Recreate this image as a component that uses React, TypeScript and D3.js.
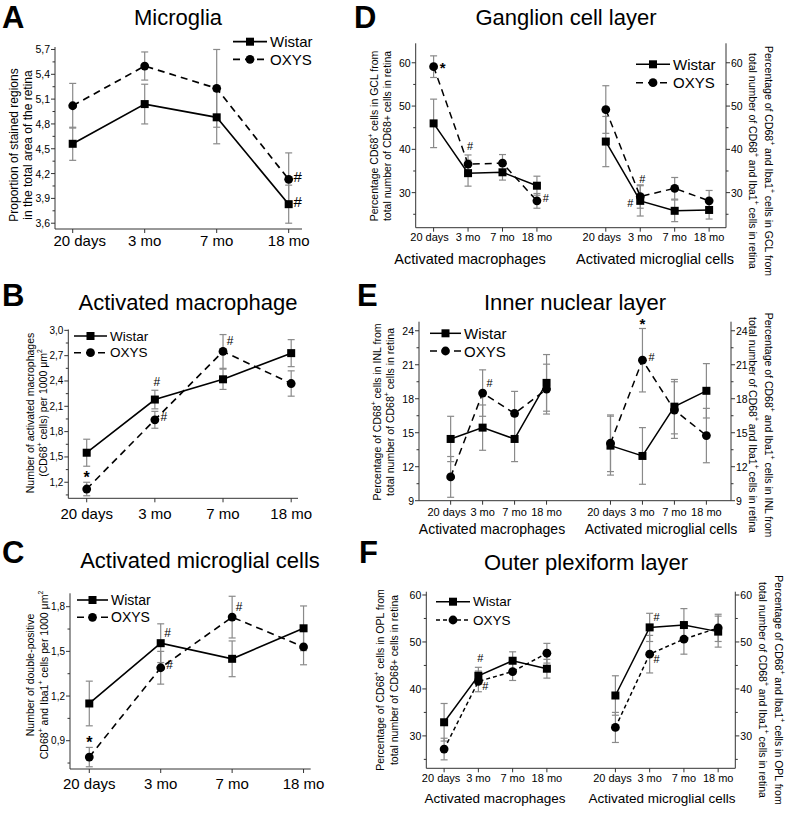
import React from "react";
import * as d3 from "d3";

// ---------- data ----------
const ages = ["20 days", "3 mo", "7 mo", "18 mo"];
const cellGroups = ["Activated macrophages", "Activated microglial cells"];
const seriesNames = ["Wistar", "OXYS"];

// A: Microglia
const microgliaWistar = [4.56, 5.04, 4.88, 3.83];
const microgliaWistarErr = [0.2, 0.24, 0.32, 0.23];
const microgliaOxys = [5.02, 5.5, 5.23, 4.13];
const microgliaOxysErr = [0.27, 0.17, 0.47, 0.32];
const microgliaTicks = [3.6, 3.9, 4.2, 4.5, 4.8, 5.1, 5.4, 5.7];

// B: Activated macrophage
const macroWistar = [1.55, 2.18, 2.42, 2.73];
const macroWistarErr = [0.16, 0.11, 0.12, 0.16];
const macroOxys = [1.12, 1.94, 2.75, 2.37];
const macroOxysErr = [0.08, 0.1, 0.2, 0.15];
const macroTicks = [1.2, 1.5, 1.8, 2.1, 2.4, 2.7, 3.0];

// C: Activated microglial cells
const microWistar = [1.15, 1.555, 1.45, 1.655];
const microWistarErr = [0.15, 0.13, 0.12, 0.15];
const microOxys = [0.79, 1.39, 1.73, 1.53];
const microOxysErr = [0.065, 0.11, 0.14, 0.12];
const microTicks = [0.9, 1.2, 1.5, 1.8];

// D: Ganglion cell layer (macrophages x4, microglial cells x4)
const gclWistar = [46.0, 34.5, 34.7, 31.6, 41.8, 28.1, 25.8, 26.0];
const gclWistarErr = [5.6, 3.0, 1.8, 2.2, 5.8, 3.5, 2.5, 2.1];
const gclOxys = [59.1, 36.6, 36.8, 28.1, 49.2, 29.1, 31.0, 28.1];
const gclOxysErr = [2.5, 2.1, 2.0, 1.7, 5.5, 2.7, 2.5, 2.4];
const gclTicks = [30, 40, 50, 60];

// E: Inner nuclear layer
const inlWistar = [14.45, 15.45, 14.45, 19.4, 13.86, 12.95, 17.3, 18.7];
const inlWistarErr = [2.0, 2.0, 2.0, 2.5, 2.6, 2.5, 2.4, 2.4];
const inlOxys = [11.1, 18.5, 16.7, 18.85, 14.07, 21.4, 17.0, 14.75];
const inlOxysErr = [1.8, 2.05, 1.95, 2.2, 2.5, 2.8, 2.5, 2.4];
const inlTicks = [9, 12, 15, 18, 21, 24];

// F: Outer plexiform layer
const oplWistar = [32.9, 42.8, 46.0, 44.3, 38.6, 53.1, 53.6, 52.2];
const oplWistarErr = [4.0, 1.8, 1.9, 2.0, 4.2, 3.0, 3.5, 3.3];
const oplOxys = [27.2, 41.6, 43.7, 47.6, 31.8, 47.4, 50.6, 53.0];
const oplOxysErr = [2.3, 2.2, 1.9, 2.1, 3.2, 4.0, 3.2, 2.9];
const oplTicks = [30, 40, 50, 60];

// significance marks: series, point index, symbol, placement keyword
type Mark = { s: "W" | "O"; i: number; sym: string; pos: string };
const marksA: Mark[] = [
  { s: "W", i: 3, sym: "#", pos: "right" },
  { s: "O", i: 3, sym: "#", pos: "right" },
];
const marksB: Mark[] = [
  { s: "O", i: 0, sym: "*", pos: "aboveErr" },
  { s: "W", i: 1, sym: "#", pos: "above" },
  { s: "O", i: 1, sym: "#", pos: "right" },
  { s: "O", i: 2, sym: "#", pos: "aboveRight" },
];
const marksC: Mark[] = [
  { s: "O", i: 0, sym: "*", pos: "aboveErr" },
  { s: "W", i: 1, sym: "#", pos: "aboveRight" },
  { s: "O", i: 1, sym: "#", pos: "right" },
  { s: "O", i: 2, sym: "#", pos: "aboveRight" },
];
const marksD: Mark[] = [
  { s: "O", i: 0, sym: "*", pos: "right" },
  { s: "O", i: 1, sym: "#", pos: "above" },
  { s: "O", i: 3, sym: "#", pos: "right" },
  { s: "O", i: 5, sym: "#", pos: "above" },
  { s: "W", i: 5, sym: "#", pos: "left" },
];
const marksE: Mark[] = [
  { s: "O", i: 1, sym: "#", pos: "aboveRight" },
  { s: "O", i: 5, sym: "*", pos: "aboveErr" },
  { s: "O", i: 5, sym: "#", pos: "right" },
];
const marksF: Mark[] = [
  { s: "W", i: 1, sym: "#", pos: "above" },
  { s: "O", i: 1, sym: "#", pos: "belowRight" },
  { s: "W", i: 5, sym: "#", pos: "aboveRight" },
  { s: "O", i: 5, sym: "#", pos: "belowRight" },
];

// ---------- rendering ----------
const FONT = "'Liberation Sans', Arial, Helvetica, sans-serif";
const AXIS = "#333";
const ERR = "#8a8a8a";

function Rich({ s, size }: { s: string; size: number }) {
  const parts = s.split(/(\^.)/).filter((p) => p.length > 0);
  return (
    <>
      {parts.map((p, k) =>
        p.startsWith("^") ? (
          <tspan key={k} baselineShift="super" fontSize={size * 0.65}>
            {p.slice(1)}
          </tspan>
        ) : (
          <tspan key={k}>{p}</tspan>
        )
      )}
    </>
  );
}

const commaFmt = (v: number) => d3.format(".1f")(v).replace(".", ",");
const intFmt = d3.format("d");

interface Cfg {
  xRange: [number, number];
  xDomain: [number, number];
  yRange: [number, number];
  yDomain: [number, number];
  pos: number[];
  groups: number[][];
  w: number[];
  wErr: number[];
  o: number[];
  oErr: number[];
  ticks: number[];
  fmt: (v: number) => string;
  tickSize: number;
  xLabelY: number;
  xLabelSize: number;
  firstLabelShift: number;
  rightAxis?: boolean;
  groupX?: number[];
  groupY?: number;
  groupSize?: number;
  title: string;
  titleX: number;
  titleY: number;
  letter: string;
  letterX: number;
  letterY: number;
  yLab: string[];
  yLabX: number[];
  yLabY: number;
  yLabSize: number;
  rLab?: string[];
  rLabX?: number[];
  rLabY?: number;
  legX: [number, number];
  legY: [number, number];
  legSize: number;
  dash: string;
  marks: Mark[];
  markSize: number;
  lineW: number;
}

const offsets: Record<string, [number, number]> = {
  right: [9, -3],
  above: [2, -18],
  aboveRight: [7, -10],
  belowRight: [7, 5],
  left: [-10, 2],
};

function Square({ cx, cy, s }: { cx: number; cy: number; s: number }) {
  return <rect x={cx - s / 2} y={cy - s / 2} width={s} height={s} fill="#000" />;
}

function Panel({ c }: { c: Cfg }) {
  const x = d3.scaleLinear().domain(c.xDomain).range(c.xRange);
  const y = d3.scaleLinear().domain(c.yDomain).range(c.yRange);
  const [xl, xr] = c.xRange;
  const [yb, yt] = c.yRange;
  const series = [
    { key: "W", v: c.w, e: c.wErr, dash: undefined as string | undefined, sq: true },
    { key: "O", v: c.o, e: c.oErr, dash: c.dash, sq: false },
  ];
  const step = c.ticks[1] - c.ticks[0];
  const minor = c.ticks
    .map((t) => t + step / 2)
    .concat([c.ticks[0] - step / 2])
    .filter((t) => t > c.yDomain[0] && t < c.yDomain[1]);
  const ms = 8;
  return (
    <g fontFamily={FONT}>
      <text x={c.titleX} y={c.titleY} fontSize={22} textAnchor="middle">
        {c.title}
      </text>
      <text x={c.letterX} y={c.letterY} fontSize={31} fontWeight="bold">
        {c.letter}
      </text>

      {/* axes */}
      <line x1={xl} x2={xl} y1={yb} y2={yt} stroke={AXIS} />
      <line x1={xl} x2={xr} y1={yb} y2={yb} stroke={AXIS} />
      {c.rightAxis && <line x1={xr} x2={xr} y1={yb} y2={yt} stroke={AXIS} />}
      {minor.map((t) => (
        <g key={"mn" + t}>
          <line x1={xl - 2.5} x2={xl} y1={y(t)} y2={y(t)} stroke={AXIS} />
          {c.rightAxis && <line x1={xr} x2={xr + 2.5} y1={y(t)} y2={y(t)} stroke={AXIS} />}
        </g>
      ))}
      {c.ticks.map((t) => (
        <g key={"t" + t}>
          <line x1={xl - 4} x2={xl} y1={y(t)} y2={y(t)} stroke={AXIS} />
          <text x={xl - 5} y={y(t)} fontSize={c.tickSize} textAnchor="end" dominantBaseline="central">
            {c.fmt(t)}
          </text>
          {c.rightAxis && (
            <>
              <line x1={xr} x2={xr + 4} y1={y(t)} y2={y(t)} stroke={AXIS} />
              <text x={xr + 5} y={y(t)} fontSize={c.tickSize} dominantBaseline="central">
                {c.fmt(t)}
              </text>
            </>
          )}
        </g>
      ))}
      {c.pos.map((p, i) => (
        <g key={"x" + i}>
          <line x1={x(p)} x2={x(p)} y1={yb} y2={yb + 4} stroke={AXIS} />
          <text
            x={x(p) + (i % ages.length === 0 ? c.firstLabelShift : 0)}
            y={c.xLabelY}
            fontSize={c.xLabelSize}
            textAnchor="middle"
          >
            {ages[i % ages.length]}
          </text>
        </g>
      ))}
      {c.groupX &&
        c.groupX.map((gx, k) => (
          <text key={"g" + k} x={gx} y={c.groupY} fontSize={c.groupSize} textAnchor="middle">
            {cellGroups[k]}
          </text>
        ))}

      {/* error bars */}
      {series.map((s) =>
        s.v.map((v, i) => {
          const px = x(c.pos[i]);
          return (
            <g key={s.key + "e" + i} stroke={ERR} strokeWidth={1.2}>
              <line x1={px} x2={px} y1={y(v - s.e[i])} y2={y(v + s.e[i])} />
              <line x1={px - 3.5} x2={px + 3.5} y1={y(v - s.e[i])} y2={y(v - s.e[i])} />
              <line x1={px - 3.5} x2={px + 3.5} y1={y(v + s.e[i])} y2={y(v + s.e[i])} />
            </g>
          );
        })
      )}

      {/* lines */}
      {series.map((s) =>
        c.groups.map((g, k) => {
          const gen = d3
            .line<number>()
            .x((i) => x(c.pos[i]))
            .y((i) => y(s.v[i]));
          return (
            <path
              key={s.key + "l" + k}
              d={gen(g) || ""}
              fill="none"
              stroke="#000"
              strokeWidth={c.lineW}
              strokeDasharray={s.dash}
            />
          );
        })
      )}

      {/* markers */}
      {series.map((s) =>
        s.v.map((v, i) =>
          s.sq ? (
            <Square key={s.key + "m" + i} cx={x(c.pos[i])} cy={y(v)} s={ms} />
          ) : (
            <circle key={s.key + "m" + i} cx={x(c.pos[i])} cy={y(v)} r={4.4} fill="#000" />
          )
        )
      )}

      {/* legend */}
      {series.map((s, k) => {
        const ly = c.legY[k];
        const mx = (c.legX[0] + c.legX[1]) / 2;
        return (
          <g key={"leg" + k}>
            <line x1={c.legX[0]} x2={c.legX[1]} y1={ly} y2={ly} stroke="#000" strokeWidth={c.lineW} strokeDasharray={s.dash} />
            {s.sq ? <Square cx={mx} cy={ly} s={ms} /> : <circle cx={mx} cy={ly} r={4.4} fill="#000" />}
            <text x={c.legX[1] + 3} y={ly} fontSize={c.legSize} dominantBaseline="central">
              {seriesNames[k]}
            </text>
          </g>
        );
      })}

      {/* significance marks */}
      {c.marks.map((m, k) => {
        const s = m.s === "W" ? series[0] : series[1];
        const px = x(c.pos[m.i]);
        let py = y(s.v[m.i]);
        let dx = 0;
        if (m.pos === "aboveErr") {
          py = y(s.v[m.i] + s.e[m.i]) - 9;
        } else {
          const o = offsets[m.pos];
          dx = o[0];
          py += o[1];
        }
        const star = m.sym === "*";
        return (
          <text
            key={"mk" + k}
            x={px + dx}
            y={py + (star ? 4 : 0)}
            fontSize={star ? c.markSize + 4 : c.markSize}
            fontWeight={star ? "bold" : "normal"}
            textAnchor="middle"
            dominantBaseline="central"
          >
            {m.sym}
          </text>
        );
      })}

      {/* axis titles */}
      {c.yLab.map((l, k) => (
        <text
          key={"yl" + k}
          transform={`translate(${c.yLabX[k]},${c.yLabY}) rotate(-90)`}
          fontSize={c.yLabSize}
          textAnchor="middle"
          dominantBaseline="central"
        >
          <Rich s={l} size={c.yLabSize} />
        </text>
      ))}
      {c.rLab &&
        c.rLab.map((l, k) => (
          <text
            key={"rl" + k}
            transform={`translate(${c.rLabX![k]},${c.rLabY}) rotate(90)`}
            fontSize={c.yLabSize}
            textAnchor="middle"
            dominantBaseline="central"
          >
            <Rich s={l} size={c.yLabSize} />
          </text>
        ))}
    </g>
  );
}

const pos4 = [0, 1, 2, 3];
const pos8 = [0, 1, 2, 3, 5, 6, 7, 8];
const groups4 = [[0, 1, 2, 3]];
const groups8 = [
  [0, 1, 2, 3],
  [4, 5, 6, 7],
];

const panels: Cfg[] = [
  {
    xRange: [55, 302], xDomain: [-0.246, 3.185], yRange: [229, 47], yDomain: [3.53, 5.73],
    pos: pos4, groups: groups4,
    w: microgliaWistar, wErr: microgliaWistarErr, o: microgliaOxys, oErr: microgliaOxysErr,
    ticks: microgliaTicks, fmt: commaFmt, tickSize: 10.5, xLabelY: 246, xLabelSize: 15, firstLabelShift: 7,
    title: "Microglia", titleX: 178, titleY: 25, letter: "A", letterX: 2, letterY: 28,
    yLab: ["Proportion of stained regions", "in the total area of the retina"], yLabX: [14, 28], yLabY: 145, yLabSize: 12,
    legX: [233, 267], legY: [41.7, 59.3], legSize: 15, dash: "7,5", marks: marksA, markSize: 15, lineW: 1.7,
  },
  {
    xRange: [68.3, 298], xDomain: [-0.27, 3.1], yRange: [498.3, 329.5], yDomain: [1.01, 3.01],
    pos: pos4, groups: groups4,
    w: macroWistar, wErr: macroWistarErr, o: macroOxys, oErr: macroOxysErr,
    ticks: macroTicks, fmt: commaFmt, tickSize: 10, xLabelY: 519, xLabelSize: 15, firstLabelShift: 0,
    title: "Activated macrophage", titleX: 188, titleY: 310, letter: "B", letterX: 2, letterY: 306,
    yLab: ["Number of activated macrophages", "(CD68^+ cells) per 1000 μm^2"], yLabX: [30, 43], yLabY: 413, yLabSize: 10.5,
    legX: [74, 107], legY: [336, 352.7], legSize: 13.5, dash: "7,5", marks: marksB, markSize: 12, lineW: 1.6,
  },
  {
    xRange: [70, 310.7], xDomain: [-0.27, 3.1], yRange: [769, 593.3], yDomain: [0.71, 1.89],
    pos: pos4, groups: groups4,
    w: microWistar, wErr: microWistarErr, o: microOxys, oErr: microOxysErr,
    ticks: microTicks, fmt: commaFmt, tickSize: 10, xLabelY: 789, xLabelSize: 15, firstLabelShift: 0,
    title: "Activated microglial cells", titleX: 200, titleY: 568, letter: "C", letterX: 2, letterY: 563,
    yLab: ["Number of double-positive", "CD68^+ and Iba1^+ cells per 1000 μm^2"], yLabX: [30, 44], yLabY: 675, yLabSize: 10.5,
    legX: [77, 108], legY: [600, 617.3], legSize: 14, dash: "7,5", marks: marksC, markSize: 12, lineW: 1.6,
  },
  {
    xRange: [415.7, 726], xDomain: [-0.52, 8.49], yRange: [227.7, 43.3], yDomain: [21.9, 64.5],
    pos: pos8, groups: groups8,
    w: gclWistar, wErr: gclWistarErr, o: gclOxys, oErr: gclOxysErr,
    ticks: gclTicks, fmt: intFmt, tickSize: 10.5, xLabelY: 241, xLabelSize: 11, firstLabelShift: -4, rightAxis: true,
    groupX: [470, 655], groupY: 264, groupSize: 14.5,
    title: "Ganglion cell layer", titleX: 566, titleY: 25, letter: "D", letterX: 354, letterY: 28,
    yLab: ["Percentage CD68^+ cells in GCL from", "total number of CD68+ cells in retina"], yLabX: [374, 387], yLabY: 136, yLabSize: 10.5,
    rLab: ["Percentage of CD68^+ and Iba1^+ cells in GCL from", "total number of CD68^+ and Iba1^+ cells in retina"], rLabX: [769, 753], rLabY: 161,
    legX: [636, 670], legY: [64.3, 82.7], legSize: 15, dash: "7,5", marks: marksD, markSize: 11, lineW: 1.5,
  },
  {
    xRange: [419, 731], xDomain: [-0.99, 8.77], yRange: [500.7, 321.7], yDomain: [9, 24.8],
    pos: pos8, groups: groups8,
    w: inlWistar, wErr: inlWistarErr, o: inlOxys, oErr: inlOxysErr,
    ticks: inlTicks, fmt: intFmt, tickSize: 10.5, xLabelY: 516, xLabelSize: 11, firstLabelShift: -4, rightAxis: true,
    groupX: [492, 661], groupY: 534, groupSize: 14,
    title: "Inner nuclear layer", titleX: 575, titleY: 310, letter: "E", letterX: 357, letterY: 306,
    yLab: ["Percentage of CD68^+ cells in INL from", "total number of CD68^+ cells in retina"], yLabX: [377, 390], yLabY: 412, yLabSize: 10.5,
    rLab: ["Percentage of CD68^+ and Iba1^+ cells in INL from", "total number of CD68^+ and Iba1^+ cells in retina"], rLabX: [769, 753], rLabY: 425,
    legX: [430, 461], legY: [333.3, 351], legSize: 15, dash: "7,5", marks: marksE, markSize: 11, lineW: 1.5,
  },
  {
    xRange: [426.3, 735.3], xDomain: [-0.52, 8.5], yRange: [768.3, 591.7], yDomain: [23.1, 60.7],
    pos: pos8, groups: groups8,
    w: oplWistar, wErr: oplWistarErr, o: oplOxys, oErr: oplOxysErr,
    ticks: oplTicks, fmt: intFmt, tickSize: 10.5, xLabelY: 782, xLabelSize: 11, firstLabelShift: -3, rightAxis: true,
    groupX: [495, 662], groupY: 803, groupSize: 13.5,
    title: "Outer plexiform layer", titleX: 586, titleY: 570, letter: "F", letterX: 359, letterY: 563,
    yLab: ["Percentage of CD68^+ cells in OPL from", "total number of CD68+ cells in retina"], yLabX: [380, 394], yLabY: 680, yLabSize: 10.5,
    rLab: ["Percentage of CD68^+ and Iba1^+ cells in OPL from", "total number of CD68^+ and Iba1^+ cells in retina"], rLabX: [779, 763], rLabY: 690,
    legX: [436, 470], legY: [601.7, 620], legSize: 13.5, dash: "4,3", marks: marksF, markSize: 11, lineW: 1.5,
  },
];

export default function App() {
  return (
    <svg
      width={787}
      height={813}
      style={{ position: "absolute", left: 0, top: 0, background: "#fff" }}
    >
      <rect width={787} height={813} fill="#fff" />
      {panels.map((p, k) => (
        <Panel key={k} c={p} />
      ))}
    </svg>
  );
}
